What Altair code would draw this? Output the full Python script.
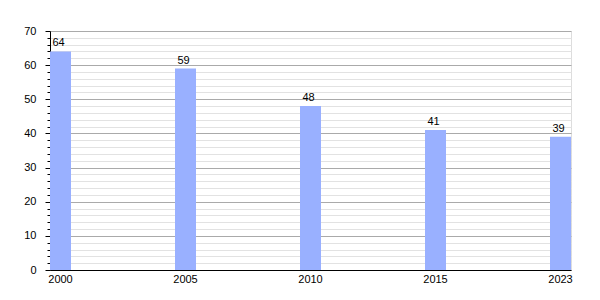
import altair as alt
import pandas as pd

years = ["2000", "2005", "2010", "2015", "2023"]
values = [64, 59, 48, 41, 39]

df = pd.DataFrame({"year": years, "value": values})

FONT = "Liberation Sans"

x_enc = alt.X(
    "year:O",
    sort=years,
    title=None,
    scale=alt.Scale(paddingInner=0.832, paddingOuter=0),
    axis=alt.Axis(
        labelAngle=0, ticks=False, grid=False, domainColor="black", domainWidth=1,
        labelColor="black", labelFont=FONT, labelFontSize=11, labelPadding=3,
    ),
)

y_enc = alt.Y(
    "value:Q",
    title=None,
    scale=alt.Scale(domain=[0, 70], nice=False),
    axis=alt.Axis(
        values=list(range(0, 71, 2)),
        labelExpr="datum.value % 10 === 0 ? datum.label : ''",
        grid=True,
        gridColor={"condition": {"test": "datum.value % 10 === 0", "value": "#aaaaaa"}, "value": "#e2e2e2"},
        tickSize={"condition": {"test": "datum.value % 10 === 0", "value": 5}, "value": 3},
        tickColor="black", domainColor="black",
        labelColor="black", labelFont=FONT, labelFontSize=11, labelPadding=9,
    ),
)

base = alt.Chart(df).encode(x=x_enc, y=y_enc)
bars = base.mark_bar(color="#99b0ff")
labels = base.mark_text(
    baseline="bottom", dy=-3, dx=-2, font=FONT, fontSize=11, color="black"
).encode(text="value:Q")

chart = alt.layer(bars, labels).properties(
    width=521, height=239,
    autosize=alt.AutoSizeParams(type="none"),
    padding={"left": 50, "top": 31, "right": 29, "bottom": 30},
).configure_view(stroke=None).configure(background="white")

chart.save("out.html", embed_options={"renderer": "svg", "actions": False})
